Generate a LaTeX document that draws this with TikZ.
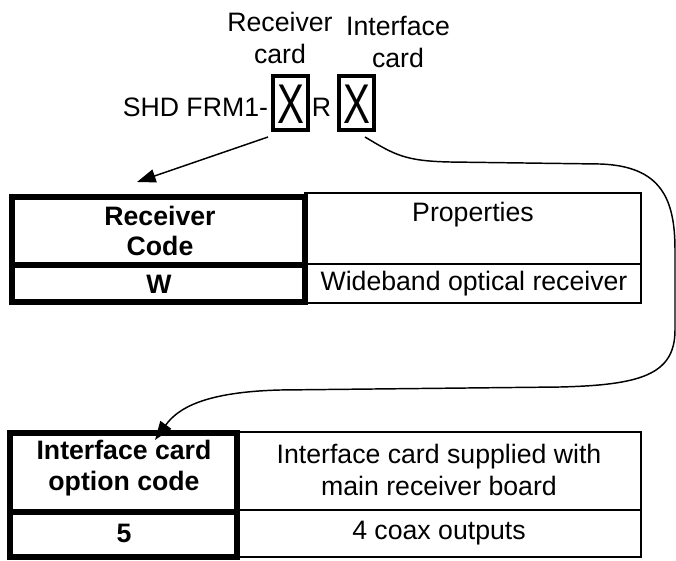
\documentclass[tikz,border=0pt]{standalone}
\usepackage{fontspec}
\setmainfont{Liberation Sans}
\usepackage{graphicx}
\usetikzlibrary{arrows.meta}
\begin{document}
\begin{tikzpicture}[x=0.75pt,y=-0.75pt,
  every node/.style={inner sep=0pt, outer sep=0pt},
  lbl/.style={font=\fontsize{20}{23.5}\selectfont, align=center},
  hd/.style={font=\fontsize{20}{23}\selectfont\bfseries, align=center},
  thincell/.style={draw, line width=1.5pt, rectangle},
  thickcell/.style={draw, line width=3.8pt, rectangle},
  codebox/.style={draw, line width=3pt, rectangle, minimum width=26.25pt, minimum height=40.5pt},
  bigx/.style={font=\fontsize{42}{42}\selectfont},
  link/.style={line width=1.1pt, -{Triangle[length=14pt,width=10pt]}},
]
\useasboundingbox (0,0) rectangle (676,561);

% part number with its two option positions
\node[lbl, anchor=east] (prefix) at (268,107) {SHD FRM1-};
\node[codebox] (x1) at (290.5,103) {};
\node[bigx] (x1t) at (290.5,104) {\scalebox{0.72}[1]{X}};
\node[lbl] (rr) at (321.5,107) {R};
\node[codebox] (x2) at (356.5,103) {};
\node[bigx] (x2t) at (356.5,104) {\scalebox{0.72}[1]{X}};

\node[lbl] (rcvlbl) at (280,38) {Receiver\\card};
\node[lbl] (ifclbl) at (398,42) {Interface\\card};

% receiver code table
\node[thincell, minimum width=252pt, minimum height=53.25pt] (t1rh) at (473,228.5) {};
\node[thincell, minimum width=252pt, minimum height=29.25pt] (t1rr) at (473,283.5) {};
\node[thickcell, minimum width=219.75pt, minimum height=51pt] (t1lh) at (158.5,231) {};
\node[thickcell, minimum width=219.75pt, minimum height=27.75pt] (t1lr) at (158.5,283.5) {};
\node[hd] (t1lht) at (160,231) {Receiver\\Code};
\node[hd] (t1lrt) at (159,284) {W};
\node[lbl] (t1rht) at (473,215) {Properties};
\node[lbl] (t1rrt) at (474,284) {Wideband optical receiver};

% interface card table
\node[thincell, minimum width=303pt, minimum height=58.5pt] (t2rh) at (439,471) {};
\node[thincell, minimum width=303pt, minimum height=35.25pt] (t2rr) at (439,533.5) {};
\node[thickcell, minimum width=170.25pt, minimum height=59.25pt] (t2lh) at (123.5,472.5) {};
\node[thickcell, minimum width=170.25pt, minimum height=33.75pt] (t2lr) at (123.5,534.5) {};
\node[hd] (t2lht) at (124,468) {Interface card\\option code};
\node[hd] (t2lrt) at (124,533) {5};
\node[lbl] (t2rht) at (439,470) {Interface card supplied with\\main receiver board};
\node[lbl] (t2rrt) at (439,533) {4 coax outputs};

% connectors
\draw[link] ([shift={(-5,7)}]x1.south west) -- ([shift={(-21.5,-15)}]t1lh.north);
\draw[link] ([shift={(8.5,7)}]x2.south)
  .. controls (395,155) and (405,161) .. (450,162)
  -- (600,164)
  .. controls (662,166) and (675,200) .. (675,250)
  -- (675,330)
  .. controls (675,375) and (640,385) .. (560,387)
  -- (280,390)
  .. controls (205,392) and (178,408) .. ([shift={(31.5,7)}]t2lh.north);
\end{tikzpicture}
\end{document}
